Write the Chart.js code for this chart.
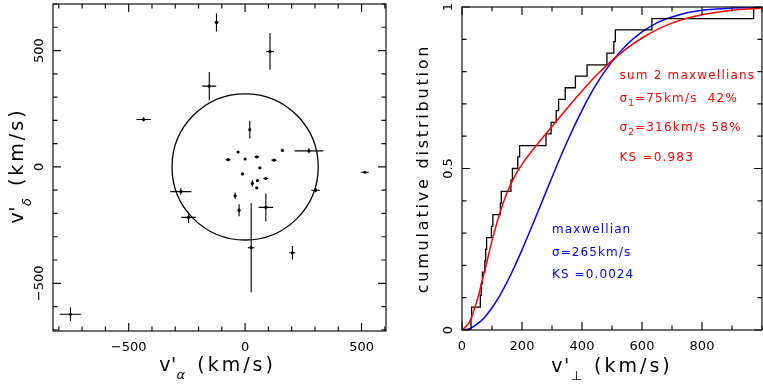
<!DOCTYPE html>
<html>
<head>
<meta charset="utf-8">
<script src="https://cdn.jsdelivr.net/npm/chart.js@4.4.1/dist/chart.umd.min.js"></script>
<style>
  body { margin: 0; background: #fff; }
  #wrap { position: relative; width: 763px; height: 384px; }
  canvas { position: absolute; top: 0; }
  #left { left: 0; }
  #right { left: 390px; }
</style>
</head>
<body>
<div id="wrap">
  <canvas id="left" width="390" height="384"></canvas>
  <canvas id="right" width="373" height="384"></canvas>
</div>
<script>
// left panel: transverse velocities of the sample (km/s)
const vAlpha   = [-123, 107, -154, -436, 20, 274, 514, 303, -276, -243, 89, 26, 203, -750, -26, -43, -30, -73, 0, 50, 160, 124, 63, -11, 31, 53, 89, 50];
const vDelta   = [621, 496, 347, 204, 160, 69, -23, -100, -106, -217, -174, -347, -369, -633, -186, -124, 64, 31, 34, 43, 71, 29, -4, -30, -71, -59, -50, -90];
const errAlpha = [8, 17, 30, 31, 4, 61, 17, 19, 45, 31, 31, 14, 13, 46, 4, 4, 0, 11, 0, 10, 0, 11, 0, 0, 4, 0, 11, 0];
const errDelta = [39, 79, 61, 9, 38, 11, 4, 9, 14, 23, 60, 191, 29, 29, 26, 14, 0, 4, 0, 4, 0, 4, 4, 0, 14, 4, 4, 4];
const circleRadius = 314;
const leftTicks = [-500, 0, 500];

// right panel: observed cumulative distribution of v'perp
const stepSpeeds = [0, 30, 32, 61, 64, 68, 76, 79, 82, 98, 103, 128, 131, 163, 168, 186, 192, 280, 297, 314, 322, 344, 378, 417, 483, 506, 511, 633, 972, 1000];
const stepLevels = [0, 0.036, 0.071, 0.107, 0.143, 0.179, 0.214, 0.25, 0.286, 0.321, 0.357, 0.393, 0.429, 0.464, 0.5, 0.536, 0.571, 0.607, 0.643, 0.679, 0.714, 0.75, 0.786, 0.821, 0.857, 0.893, 0.929, 0.964, 1, 1];

// model curves
const curveSpeeds = [0, 25, 50, 75, 100, 125, 150, 175, 200, 250, 300, 350, 400, 450, 500, 550, 600, 650, 700, 750, 800, 850, 900, 950, 1000];
const oneMaxwell  = [0, 0.004, 0.018, 0.039, 0.069, 0.105, 0.148, 0.196, 0.248, 0.359, 0.473, 0.582, 0.680, 0.764, 0.831, 0.884, 0.923, 0.951, 0.969, 0.982, 0.990, 0.994, 0.997, 0.998, 0.999];
const twoMaxwell  = [0, 0.025, 0.091, 0.181, 0.276, 0.359, 0.425, 0.475, 0.513, 0.574, 0.630, 0.686, 0.740, 0.790, 0.834, 0.872, 0.904, 0.930, 0.950, 0.965, 0.976, 0.984, 0.990, 0.994, 0.996];
const speedTicks = [0, 200, 400, 600, 800];
const fracTicks = [0, 0.5, 1];

const FONT = "'DejaVu Sans', sans-serif";
const RED = '#ff0000';
const BLUE = '#0000ff';

const minus = v => (v < 0 ? '\u2212' + (-v) : String(v));
const fixTicks = vals => s => { s.ticks = vals.map(v => ({ value: v })); };

// draws a run of text pieces (for subscripts), optionally rotated
function richWidth(ctx, parts) {
  let w = 0;
  for (const p of parts) {
    ctx.font = p.font;
    ctx.letterSpacing = (p.ls || 0) + 'px';
    w += ctx.measureText(p.t).width;
  }
  return w;
}
function richText(ctx, x, y, parts, rot, center) {
  ctx.save();
  ctx.translate(x, y);
  if (rot) ctx.rotate(rot);
  let cx = center ? -richWidth(ctx, parts) / 2 : 0;
  ctx.textAlign = 'left';
  ctx.textBaseline = 'alphabetic';
  for (const p of parts) {
    ctx.font = p.font;
    ctx.letterSpacing = (p.ls || 0) + 'px';
    ctx.fillStyle = p.color || '#000';
    ctx.fillText(p.t, cx, p.dy || 0);
    cx += ctx.measureText(p.t).width;
  }
  ctx.restore();
}

// frame with inward ticks on all four sides, rotated y labels, axis titles
const framePlugin = {
  id: 'frame',
  afterDraw(chart, args, o) {
    const { ctx, chartArea: a, scales: { x, y } } = chart;
    ctx.save();
    ctx.strokeStyle = '#111';
    ctx.lineWidth = 1.2;
    ctx.strokeRect(a.left, a.top, a.right - a.left, a.bottom - a.top);
    ctx.beginPath();
    const xt = (v, len) => {
      const p = x.getPixelForValue(v);
      ctx.moveTo(p, a.bottom); ctx.lineTo(p, a.bottom - len);
      ctx.moveTo(p, a.top); ctx.lineTo(p, a.top + len);
    };
    const yt = (v, len) => {
      const p = y.getPixelForValue(v);
      ctx.moveTo(a.left, p); ctx.lineTo(a.left + len, p);
      ctx.moveTo(a.right, p); ctx.lineTo(a.right - len, p);
    };
    for (let v = Math.ceil(x.min / o.minorX) * o.minorX; v <= x.max; v += o.minorX) xt(v, 4.5);
    for (let v = Math.ceil(y.min / o.minorY) * o.minorY; v <= y.max + 1e-9; v += o.minorY) yt(v, 4.5);
    x.ticks.forEach(t => xt(t.value, 8));
    y.ticks.forEach(t => yt(t.value, 8));
    ctx.stroke();

    // y tick labels, written bottom-to-top like the original
    ctx.fillStyle = '#000';
    ctx.font = '13px ' + FONT;
    ctx.textAlign = 'center';
    ctx.textBaseline = 'alphabetic';
    y.ticks.forEach(t => {
      ctx.save();
      ctx.translate(a.left - 10, y.getPixelForValue(t.value));
      ctx.rotate(-Math.PI / 2);
      ctx.fillText(o.yLabel(t.value), 0, 0);
      ctx.restore();
    });
    ctx.restore();

    const cxm = (a.left + a.right) / 2, cym = (a.top + a.bottom) / 2;
    richText(ctx, cxm + o.xTitleDx, o.xTitleY, o.xTitle, 0, true);
    richText(ctx, o.yTitleX, cym + o.yTitleDy, o.yTitle, -Math.PI / 2, true);
    (o.notes || []).forEach(n => {
      richText(ctx, x.getPixelForValue(n.x), y.getPixelForValue(n.y), n.parts, 0, false);
    });
  }
};

// error bars and the reference circle, through the scales
const errorPlugin = {
  id: 'errbars',
  beforeDatasetsDraw(chart) {
    const { ctx, chartArea: a, scales: { x, y } } = chart;
    ctx.save();
    ctx.beginPath();
    ctx.rect(a.left, a.top, a.right - a.left, a.bottom - a.top);
    ctx.clip();
    ctx.strokeStyle = '#000';
    ctx.lineWidth = 1.3;
    const cx = x.getPixelForValue(0), cy = y.getPixelForValue(0);
    ctx.beginPath();
    ctx.ellipse(cx, cy, Math.abs(x.getPixelForValue(circleRadius) - cx),
      Math.abs(y.getPixelForValue(circleRadius) - cy), 0, 0, Math.PI * 2);
    ctx.stroke();
    ctx.lineWidth = 1.1;
    ctx.beginPath();
    vAlpha.forEach((va, i) => {
      const px = x.getPixelForValue(va), py = y.getPixelForValue(vDelta[i]);
      if (errAlpha[i]) {
        ctx.moveTo(x.getPixelForValue(va - errAlpha[i]), py);
        ctx.lineTo(x.getPixelForValue(va + errAlpha[i]), py);
      }
      if (errDelta[i]) {
        ctx.moveTo(px, y.getPixelForValue(vDelta[i] - errDelta[i]));
        ctx.lineTo(px, y.getPixelForValue(vDelta[i] + errDelta[i]));
      }
    });
    ctx.stroke();
    ctx.restore();
  }
};

const tickFont = { family: FONT, size: 13 };
const titleFont = '19px ' + FONT;
const subFont = 'italic 13px ' + FONT;

new Chart(document.getElementById('left'), {
  type: 'scatter',
  data: {
    datasets: [{
      data: vAlpha.map((v, i) => ({ x: v, y: vDelta[i] })),
      backgroundColor: '#000',
      borderColor: '#000',
      pointRadius: 1.6,
      pointBorderWidth: 0
    }]
  },
  options: {
    responsive: false,
    animation: false,
    layout: { padding: { top: 3, right: 3, left: 0, bottom: 0 } },
    plugins: {
      legend: { display: false },
      tooltip: { enabled: false },
      frame: {
        minorX: 100, minorY: 100,
        yLabel: minus,
        xTitle: [{ t: "v'", font: titleFont, ls: 0.5 }, { t: '\u03b1', font: subFont, dy: 8, ls: 3 }, { t: ' (km/s)', font: titleFont, ls: 3 }],
        xTitleY: 371, xTitleDx: -2,
        yTitle: [{ t: "v'", font: titleFont, ls: 0.5 }, { t: '\u03b4', font: subFont, dy: 8, ls: 3 }, { t: ' (km/s)', font: titleFont, ls: 3 }],
        yTitleX: 23, yTitleDy: -2
      }
    },
    scales: {
      x: {
        type: 'linear', min: -825, max: 605,
        grid: { display: false, drawTicks: false }, border: { display: false },
        ticks: { font: tickFont, color: '#000', padding: 9, callback: minus },
        afterBuildTicks: fixTicks(leftTicks),
        afterFit: s => { s.height = 53; }
      },
      y: {
        type: 'linear', min: -705, max: 700,
        grid: { display: false, drawTicks: false }, border: { display: false },
        ticks: { display: false },
        afterBuildTicks: fixTicks(leftTicks),
        afterFit: s => { s.width = 53; }
      }
    }
  },
  plugins: [errorPlugin, framePlugin]
});

const noteFont = '12px ' + FONT;
const noteSub = '9px ' + FONT;
const redNote = (t) => ({ t, font: noteFont, ls: 1.2, color: RED });
const blueNote = (t) => ({ t, font: noteFont, ls: 1.1, color: BLUE });

new Chart(document.getElementById('right'), {
  type: 'line',
  data: {
    datasets: [
      {
        data: curveSpeeds.map((v, i) => ({ x: v, y: twoMaxwell[i] })),
        borderColor: RED, borderWidth: 1.5, pointRadius: 0,
        cubicInterpolationMode: 'monotone', fill: false
      },
      {
        data: stepSpeeds.map((v, i) => ({ x: v, y: stepLevels[i] })),
        borderColor: '#000', borderWidth: 1.3, pointRadius: 0,
        stepped: 'before', fill: false
      },
      {
        data: curveSpeeds.map((v, i) => ({ x: v, y: oneMaxwell[i] })),
        borderColor: BLUE, borderWidth: 1.5, pointRadius: 0,
        cubicInterpolationMode: 'monotone', fill: false
      }
    ]
  },
  options: {
    responsive: false,
    animation: false,
    layout: { padding: { top: 7, right: 1, left: 0, bottom: 0 } },
    plugins: {
      legend: { display: false },
      tooltip: { enabled: false },
      frame: {
        minorX: 100, minorY: 0.1,
        yLabel: v => String(v),
        xTitle: [{ t: "v'", font: titleFont, ls: 1.5 }, { t: '\u22a5', font: '13px ' + FONT, dy: 8, ls: 3 }, { t: ' (km/s)', font: titleFont, ls: 3 }],
        xTitleY: 372, xTitleDx: 0,
        yTitle: [{ t: 'cumulative distribution', font: '16px ' + FONT, ls: 2.8 }],
        yTitleX: 38, yTitleDy: 0,
        notes: [
          { x: 525, y: 0.777, parts: [redNote('sum 2 maxwellians')] },
          { x: 525, y: 0.707, parts: [redNote('\u03c3'), { t: '1', font: noteSub, dy: 4, ls: 1, color: RED }, redNote('=75km/s  42%')] },
          { x: 525, y: 0.617, parts: [redNote('\u03c3'), { t: '2', font: noteSub, dy: 4, ls: 1, color: RED }, redNote('=316km/s 58%')] },
          { x: 525, y: 0.522, parts: [redNote('KS =0.983')] },
          { x: 300, y: 0.301, parts: [blueNote('maxwellian')] },
          { x: 300, y: 0.230, parts: [blueNote('\u03c3=265km/s')] },
          { x: 300, y: 0.160, parts: [blueNote('KS =0.0024')] }
        ]
      }
    },
    scales: {
      x: {
        type: 'linear', min: 0, max: 1000,
        grid: { display: false, drawTicks: false }, border: { display: false },
        ticks: { font: tickFont, color: '#000', padding: 9 },
        afterBuildTicks: fixTicks(speedTicks),
        afterFit: s => { s.height = 54; }
      },
      y: {
        type: 'linear', min: 0, max: 1,
        grid: { display: false, drawTicks: false }, border: { display: false },
        ticks: { display: false },
        afterBuildTicks: fixTicks(fracTicks),
        afterFit: s => { s.width = 72; }
      }
    }
  },
  plugins: [framePlugin]
});
</script>
</body>
</html>
